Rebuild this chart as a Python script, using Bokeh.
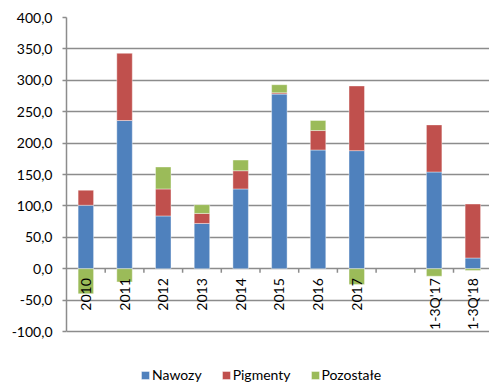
import math
from bokeh.plotting import figure
from bokeh.models import (ColumnDataSource, Range1d, FixedTicker, CustomJSTickFormatter,
                          Legend, LegendItem)
from bokeh.core.properties import value
from bokeh.embed import file_html
from bokeh.resources import INLINE

# ---- data ----
categories = ["2010", "2011", "2012", "2013", "2014", "2015", "2016", "2017", "", "1-3Q'17", "1-3Q'18"]
nawozy    = [101, 236, 84, 72, 127, 278, 189, 188, None, 154, 17]
pigmenty  = [24, 107, 43, 16, 29, 2, 31, 103, None, 75, 86]
pozostale = [-40, -21, 35, 14, 17, 13, 16, -25, None, -12, -3]
y_ticks = [-100, -50, 0, 50, 100, 150, 200, 250, 300, 350, 400]
series_names = ["Nawozy", "Pigmenty", "Pozostałe"]
colors = ["#4F81BD", "#C0504D", "#9BBB59"]

FONT = "Lato"
GRID = "#8c8c8c"

# ---- stacking (positives up, negatives down) ----
series = [nawozy, pigmenty, pozostale]
stacks = [dict(x=[], bottom=[], top=[]) for _ in series]
for i, cat in enumerate(categories):
    if nawozy[i] is None:
        continue
    pos, neg = 0.0, 0.0
    for s, vals in enumerate(series):
        v = vals[i]
        if v >= 0:
            b, t = pos, pos + v
            pos = t
        else:
            b, t = neg + v, neg
            neg = b
        stacks[s]["x"].append(i + 0.5)
        stacks[s]["bottom"].append(b)
        stacks[s]["top"].append(t)

n = len(categories)
# frame: top at 17px (400), -100 at ~331px; extended to the bottom edge to host the legend
y_lo = -100 - 54 * (500.0 / 314.0)
p = figure(width=489, height=385,
           x_range=Range1d(0, 10.93), y_range=Range1d(y_lo, 400),
           output_backend="svg", toolbar_location=None,
           x_axis_location=None, y_axis_location="left",
           min_border_left=66, min_border_right=0,
           min_border_top=17, min_border_bottom=0)
p.outline_line_color = None
p.background_fill_color = "white"
p.border_fill_color = "white"

p.xgrid.visible = False
p.yaxis.ticker = FixedTicker(ticks=y_ticks)
p.ygrid.ticker = FixedTicker(ticks=y_ticks)
p.yaxis.bounds = (y_ticks[0], y_ticks[-1])
p.ygrid.grid_line_color = GRID
p.ygrid.grid_line_width = 1.5
p.yaxis.formatter = CustomJSTickFormatter(code="return tick.toFixed(1).replace('.', ',');")
p.yaxis.axis_line_color = GRID
p.yaxis.axis_line_width = 1.5
p.yaxis.major_tick_line_color = GRID
p.yaxis.major_tick_line_width = 1.5
p.yaxis.major_tick_out = 4
p.yaxis.major_tick_in = 0
p.yaxis.minor_tick_line_color = None
p.yaxis.major_label_standoff = 10
p.yaxis.major_label_text_font = FONT
p.yaxis.major_label_text_font_size = "14px"
p.yaxis.major_label_text_color = "black"

renderers = []
for s in range(len(series)):
    src = ColumnDataSource(stacks[s])
    r = p.vbar(x="x", width=0.4, bottom="bottom", top="top", source=src,
               fill_color=colors[s], line_color="white", line_alpha=0.5, line_width=0.8)
    renderers.append(r)

# category tick marks along zero line
bounds = list(range(1, n))
p.segment(x0=bounds, y0=[0] * len(bounds), x1=bounds, y1=[-6.4] * len(bounds),
          line_color=GRID, line_width=1.5)

# rotated category labels
p.text(x=[i + 0.5 for i in range(n)], y=[0] * n, text=categories,
       angle=math.pi / 2, text_align="right", text_baseline="middle",
       y_offset=9.5, text_font=value(FONT), text_font_size="14px", text_color="black")

legend = Legend(items=[LegendItem(label=series_names[s], renderers=[renderers[s]]) for s in range(3)],
                location=(74, 2), orientation="horizontal",
                glyph_width=10, glyph_height=10, label_standoff=2, spacing=19,
                padding=0, margin=0, border_line_color=None, background_fill_alpha=0,
                label_text_font=FONT, label_text_font_size="14px", label_height=10,
                label_text_color="black")
p.add_layout(legend)

open("out.html", "w").write(file_html(p, INLINE))
